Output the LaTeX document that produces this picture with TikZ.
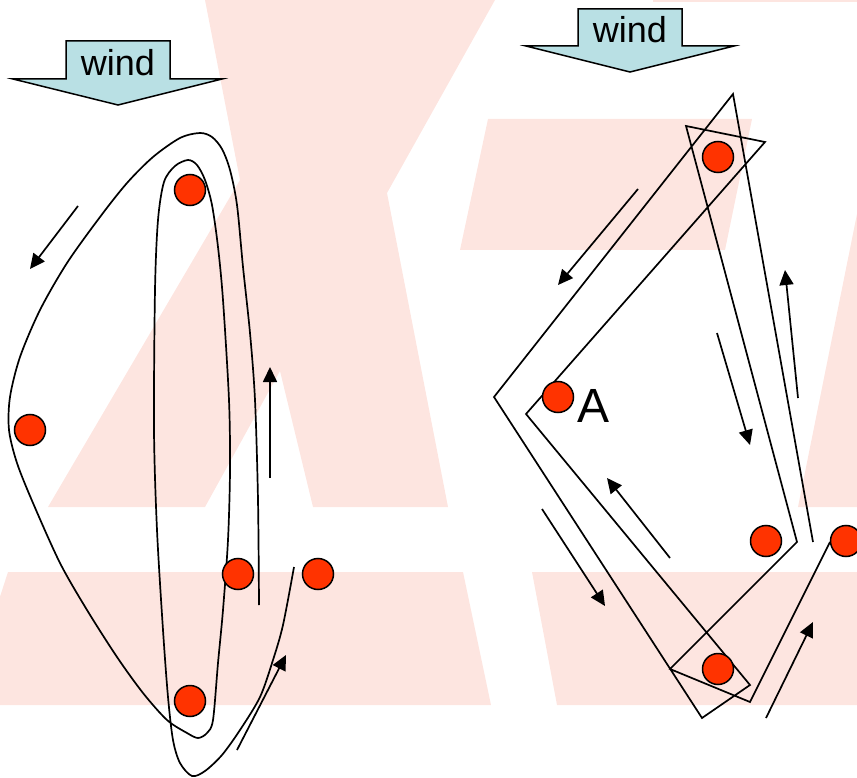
\documentclass[tikz,border=0pt]{standalone}
\usepackage{fontspec}
\setmainfont{Liberation Sans}
\usetikzlibrary{arrows.meta}
\definecolor{watermark}{RGB}{253,229,224}
\definecolor{windblue}{RGB}{185,224,228}
\definecolor{dotred}{RGB}{255,51,0}

\begin{document}
\begin{tikzpicture}[x=1pt,y=-1pt,line width=1.7pt,>={Triangle[length=15pt,width=14pt]},
                dot/.style={shape=circle,draw=black,line width=1.5pt,fill=dotred,minimum size=31pt,inner sep=0pt},
                windarrow/.style={draw=black,line width=1.5pt,fill=windblue},
                windtext/.style={anchor=base,inner sep=0pt,font=\fontsize{36}{40}\selectfont}]
                \clip(0,0)rectangle(857,778);
                % background
                \fill[watermark](205,0)--(495,0)--(387,193)--(448,507)--(313,507)--(280,371)--(205,507)--(48,507)--(240,180)--cycle;
                \fill[watermark](8,572)--(463,572)--(491,705)--(-35,705)--cycle;
                \fill[watermark](488,119)--(752,119)--(725,250)--(460,250)--cycle;
                \fill[watermark](857,214)--(798,507)--(870,507)--(870,214)--cycle;
                \fill[watermark](532,572)--(870,572)--(870,705)--(557,705)--cycle;
                \fill[watermark](653,-5)rectangle(870,2);
                % wind
                \draw[windarrow](66,41)--(170,41)--(170,79)--(222,79)--(118,105)--(13,79)--(66,79)--cycle;
                \node[windtext](windL)at(118, 76){wind};
                \draw[windarrow](578,9)--(682,9)--(682,46)--(734,46)--(630,72)--(526,46)--(578,46)--cycle;
                \node[windtext](windR)at(630, 43){wind};
                % left track
                \draw plot[smooth,tension=0.5] coordinates {(259,605) (258,500) (255,400) (250,333) (243,267)
                    (237,205) (230,170) (222,149) (212,137) (200,133) (180,138) (153,157) (127,183) (100,217)
                    (67,263) (40,310) (20,357) (10,397) (9,430) (17,463) (33,503) (60,563) (87,610) (117,657)
                    (143,693) (167,720) (187,733) (198,738) (207,733) (213,720) (218,663) (223,610) (228,540)
                    (230,470) (229,400) (223,300) (218,247) (212,205) (205,180) (197,165) (188,160) (175,166)
                    (164,182) (158,220) (155,290) (154,430) (157,530) (163,630) (168,697) (173,740) (180,763)
                    (192,776) (205,771) (222,755) (240,730) (260,697) (273,660) (283,625) (294,567)};
                % right track
                \draw(813,542)--(733,94)--(494,397)--(702,718)--(750,685)--(526,414)--(765,142)--(686,126)
                    --(797,542)--(670,669)--(750,702)--(830,542);
                % marks
                \node[dot](L1)at(190, 190){};
                \node[dot](L2)at(30, 430){};
                \node[dot](L3)at(238, 574){};
                \node[dot](L4)at(318, 574){};
                \node[dot](L5)at(190, 701){};
                \node[dot](R1)at(718, 157){};
                \node[dot](R2)at(558, 397){};
                \node[dot](R3)at(766, 541){};
                \node[dot](R4)at(846, 541){};
                \node[dot](R5)at(718, 669){};
                \node[anchor=base,inner sep=0pt,font=\fontsize{48}{52}\selectfont](labelA)at(594, 422){A};
                % flow arrows
                \coordinate(f1s)at(78, 206);  \coordinate(f1e)at(30, 269);
                \coordinate(f2s)at(270, 478); \coordinate(f2e)at(270, 367);
                \coordinate(f3s)at(237, 750); \coordinate(f3e)at(286, 655);
                \coordinate(f4s)at(638, 189); \coordinate(f4e)at(558, 285);
                \coordinate(f5s)at(798, 398); \coordinate(f5e)at(785, 270);
                \coordinate(f6s)at(717, 333); \coordinate(f6e)at(750, 445);
                \coordinate(f7s)at(670, 558); \coordinate(f7e)at(607, 478);
                \coordinate(f8s)at(542, 509); \coordinate(f8e)at(605, 606);
                \coordinate(f9s)at(766, 718); \coordinate(f9e)at(813, 622);
                \path[->](f1s) edge (f1e)
                (f2s) edge (f2e)
                (f3s) edge (f3e)
                (f4s) edge (f4e)
                (f5s) edge (f5e)
                (f6s) edge (f6e)
                (f7s) edge (f7e)
                (f8s) edge (f8e)
                (f9s) edge (f9e);
            \end{tikzpicture}
\end{document}
